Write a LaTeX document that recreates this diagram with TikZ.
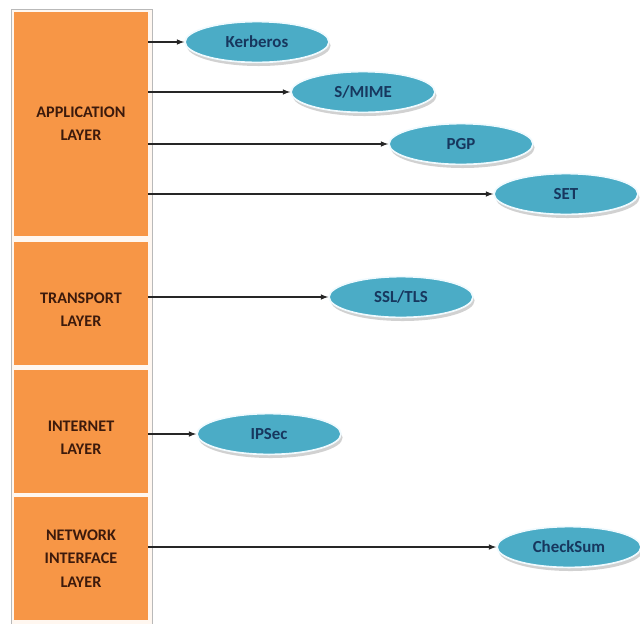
\documentclass[tikz,border=0pt]{standalone}
\usepackage{fontspec}
\setmainfont{Carlito}
\usepackage{tikz}
\usetikzlibrary{shapes}
\usetikzlibrary{shadows}
\usetikzlibrary{arrows.meta}
\definecolor{layerorange}{HTML}{F79646}
\definecolor{layertext}{HTML}{3C1A0C}
\definecolor{prototeal}{HTML}{4BACC6}
\definecolor{prototext}{HTML}{17375E}
\tikzset{
    layer/.style = {rectangle, draw=none, fill=layerorange, minimum width=3.35cm, align=center, text=layertext, font=\fontsize{11.5}{16.5}\selectfont\bfseries},
    proto/.style = {ellipse, draw=cyan!6, line width=1.2pt, fill=prototeal, minimum width=3.6cm, minimum height=1.02cm, inner sep=0pt, text=prototext, font=\fontsize{12}{14}\selectfont\bfseries,
        drop shadow={shadow xshift=0.4mm, shadow yshift=-0.9mm, fill=black!40, opacity=0.45}},
    edgen/.style = {-latex, thick, black!85}
}

\begin{document}
\begin{tikzpicture}[x=1cm,y=1cm]
\path[use as bounding box] (0,0) rectangle (16,-15.575);
% column behind the layers
\draw[draw=gray!55, fill=orange!6] (0.27,-0.22) rectangle (3.8,-15.7);
%
\node[layer, minimum height=5.6cm] at (2.025,-3.1) (app) {APPLICATION\\LAYER};
\node[layer, minimum height=3.075cm] at (2.025,-7.5875) (trans) {\\TRANSPORT\\LAYER};
\node[layer, minimum height=3.075cm] at (2.025,-10.775) (inet) {\\INTERNET\\LAYER};
\node[layer, minimum height=3.075cm] at (2.025,-13.9625) (net) {NETWORK\\INTERFACE\\LAYER};
%
\node[proto] at (6.425,-1.05) (kerb) {Kerberos};
\node[proto] at (9.075,-2.3) (smime) {S/MIME};
\node[proto] at (11.525,-3.6) (pgp) {PGP};
\node[proto] at (14.15,-4.85) (set) {SET};
\node[proto] at (10.025,-7.425) (ssl) {SSL/TLS};
\node[proto] at (6.725,-10.85) (ipsec) {IPSec};
\node[proto] at (14.225,-13.675) (cksum) {CheckSum};
%
\draw[edgen] (app.east |- kerb) -- (kerb);
\draw[edgen] (app.east |- smime) -- (smime);
\draw[edgen] (app.east |- pgp) -- (pgp);
\draw[edgen] (app.east |- set) -- (set);
\draw[edgen] (trans.east |- ssl) -- (ssl);
\draw[edgen] (inet.east |- ipsec) -- (ipsec);
\draw[edgen] (net.east |- cksum) -- (cksum);

\end{tikzpicture}
\end{document}
